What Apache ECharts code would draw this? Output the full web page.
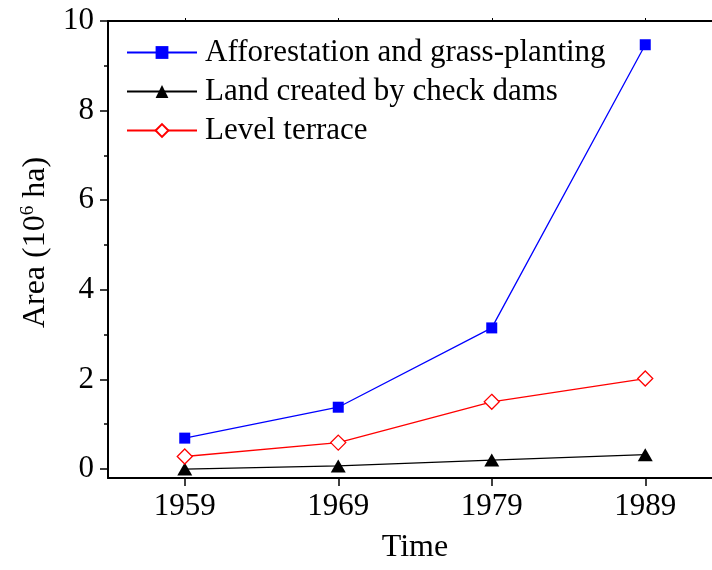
<!DOCTYPE html>
<html>
<head>
<meta charset="utf-8">
<script src="https://cdn.jsdelivr.net/npm/echarts@6/dist/echarts.min.js"></script>
<style>
  html, body { margin: 0; padding: 0; background: #fff; }
  #chart { width: 712px; height: 570px; }
</style>
</head>
<body>
<div id="chart"></div>
<script>
// Survey years on the horizontal axis
const years = ['1959', '1969', '1979', '1989'];

// Area of soil-conservation measures, in 10^6 ha
const afforestation = [0.69, 1.38, 3.15, 9.47];
const checkDams = [0.0, 0.07, 0.2, 0.32];
const levelTerrace = [0.28, 0.59, 1.5, 2.02];

// Tick positions on the value axis
const majorTicks = [0, 2, 4, 6, 8, 10];
const minorTicks = [1, 3, 5, 7, 9];

const FONT = '"Liberation Serif", "Times New Roman", serif';

const chart = echarts.init(document.getElementById('chart'), null, { renderer: 'canvas' });

const axisLineStyle = { color: '#000', width: 2 };

chart.setOption({
  animation: false,
  backgroundColor: '#fff',
  textStyle: { fontFamily: FONT, color: '#000' },
  grid: {
    left: 108, top: 21, right: -10, bottom: 92,
    containLabel: false,
    outerBoundsMode: 'none'
  },
  legend: {
    orient: 'vertical',
    left: 126,
    top: 37,
    padding: 0,
    itemWidth: 70,
    itemHeight: 16,
    itemGap: 8,
    selectedMode: false,
    textStyle: { fontFamily: FONT, fontSize: 31, color: '#000', padding: [0, 0, 0, 3] },
    data: ['Afforestation and grass-planting', 'Land created by check dams', 'Level terrace']
  },
  xAxis: [
    {
      type: 'category',
      data: years,
      boundaryGap: true,
      position: 'bottom',
      name: 'Time',
      nameLocation: 'middle',
      nameGap: 54,
      nameTextStyle: { fontFamily: FONT, fontSize: 32, color: '#000', verticalAlign: 'top' },
      axisLine: { show: true, onZero: false, lineStyle: axisLineStyle },
      axisTick: { show: true, alignWithLabel: true, inside: false, length: 8, lineStyle: { color: '#000', width: 1.5 } },
      axisLabel: { fontFamily: FONT, fontSize: 31, color: '#000', margin: 13 },
      splitLine: { show: false }
    },
    {
      type: 'category',
      data: years,
      boundaryGap: true,
      position: 'top',
      axisLine: { show: true, onZero: false, lineStyle: axisLineStyle },
      axisTick: { show: true, alignWithLabel: true, inside: false, length: 3, lineStyle: { color: '#000', width: 1 } },
      axisLabel: { show: false },
      splitLine: { show: false }
    }
  ],
  yAxis: [
    {
      type: 'value',
      min: -0.2,
      max: 10,
      position: 'left',
      name: 'Area (10{sup|6} ha)',
      nameLocation: 'middle',
      nameGap: 56,
      nameRotate: 90,
      nameTextStyle: {
        fontFamily: FONT, fontSize: 32, color: '#000',
        padding: [0, 0, 0, 14],
        rich: {
          sup: { fontFamily: FONT, fontSize: 19, color: '#000', verticalAlign: 'top', padding: [0, 0, 14, 0] }
        }
      },
      axisLine: { show: true, onZero: false, lineStyle: axisLineStyle },
      axisTick: { show: true, inside: false, length: 8, customValues: majorTicks, lineStyle: { color: '#000', width: 1.5 } },
      axisLabel: { fontFamily: FONT, fontSize: 31, color: '#000', margin: 14, customValues: majorTicks },
      splitLine: { show: false }
    },
    {
      type: 'value',
      min: -0.2,
      max: 10,
      position: 'left',
      axisLine: { show: false, onZero: false },
      axisTick: { show: true, inside: false, length: 4, customValues: minorTicks, lineStyle: { color: '#000', width: 1.5 } },
      axisLabel: { show: false, customValues: minorTicks },
      splitLine: { show: false }
    }
  ],
  series: [
    {
      name: 'Afforestation and grass-planting',
      type: 'line',
      data: afforestation,
      symbol: 'rect',
      symbolSize: 11,
      itemStyle: { color: '#0000ff' },
      lineStyle: { color: '#0000ff', width: 1.3 },
      z: 3
    },
    {
      name: 'Land created by check dams',
      type: 'line',
      data: checkDams,
      symbol: 'triangle',
      symbolSize: [15, 13],
      itemStyle: { color: '#000' },
      lineStyle: { color: '#000', width: 1.3 },
      z: 3
    },
    {
      name: 'Level terrace',
      type: 'line',
      data: levelTerrace,
      symbol: 'diamond',
      symbolSize: 15,
      itemStyle: { color: '#fff', borderColor: '#ff0000', borderWidth: 1.3 },
      lineStyle: { color: '#ff0000', width: 1.3 },
      z: 3
    }
  ]
});
</script>
</body>
</html>
